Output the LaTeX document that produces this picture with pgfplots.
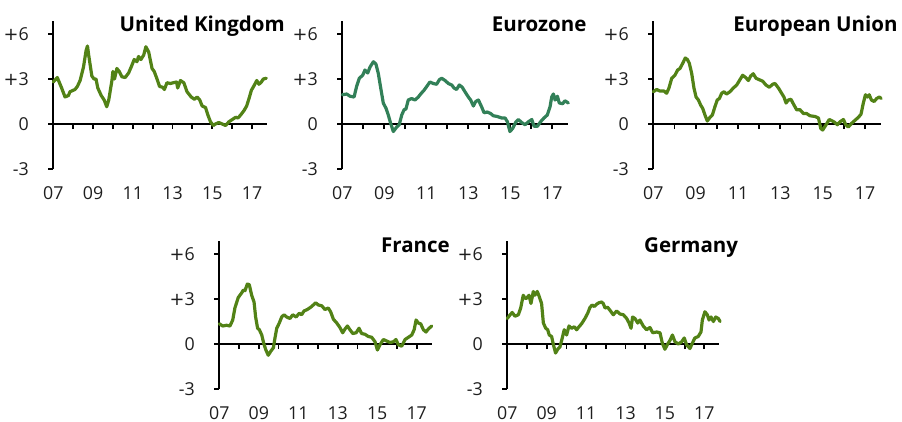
\documentclass[border=0pt]{standalone}
\usepackage{fontspec}
\setmainfont{Open Sans}
\newfontfamily\plusfont{DejaVu Sans}
\usepackage{pgfplots}
\pgfplotsset{compat=1.18}

\definecolor{olive}{RGB}{82,130,22}
\definecolor{ezgreen}{RGB}{50,128,88}
\definecolor{labelgray}{RGB}{30,30,30}

\newcommand{\tickfont}{\fontsize{17.8}{20}\selectfont}
\newcommand{\titlefont}{\fontsize{20.5}{23}\selectfont\bfseries}
\DeclareRobustCommand{\wplus}{{\plusfont+}}

\pgfplotsset{
  panel/.style={
    scale only axis,
    anchor=south west,
    height=148.5pt,
    xmin=7, xmax=17.75,
    ymin=-3, ymax=6.9,
    axis x line=middle,
    axis y line=left,
    axis line style={-, line width=1.8pt, black},
    hide obscured x ticks=false,
    hide obscured y ticks=false,
    tick align=outside,
    major tick length=5pt,
    tick style={line width=1.8pt, black},
    xtick={7,8,...,17},
    xticklabels={07,,09,,11,,13,,15,,17},
    ytick={-3,0,3,6},
    yticklabels={-3,0,\wplus3,\wplus6},
    xticklabel style={anchor=north, inner sep=0pt, font=\tickfont, text=labelgray},
    yticklabel style={anchor=east, inner sep=0pt, font=\tickfont, text=labelgray},
    xticklabel shift=57.3pt,
    yticklabel shift=19.3pt,
    clip=false,
  },
  series/.style={line width=3.2pt, line join=round, line cap=round, #1},
}

\begin{document}
\begin{tikzpicture}
\path[use as bounding box] (0,0) rectangle (902pt,421pt);

% United Kingdom
\begin{axis}[panel, at={(53.3pt,252pt)}, width=213.6pt]
\addplot[series=olive] coordinates {
(7.00,2.8)(7.20,3.1)(7.42,2.4)(7.59,1.8)(7.76,1.9)(7.84,2.15)(8.09,2.3)(8.21,2.5)(8.35,2.9)(8.52,3.8)
(8.65,4.9)(8.72,5.2)(8.78,4.6)(8.94,3.2)(9.05,3.0)(9.15,3.0)(9.24,2.4)(9.41,1.9)(9.56,1.6)(9.69,1.15)
(9.79,1.6)(9.95,2.9)(10.00,3.5)(10.08,3.0)(10.20,3.7)(10.32,3.5)(10.45,3.15)(10.62,3.1)(10.79,3.4)(10.92,3.8)
(11.07,4.3)(11.21,4.15)(11.29,4.5)(11.41,4.3)(11.55,4.6)(11.66,5.15)(11.80,4.8)(11.97,3.7)(12.08,3.5)(12.22,3.0)
(12.35,2.5)(12.51,2.45)(12.59,2.3)(12.72,2.75)(12.89,2.7)(13.03,2.75)(13.20,2.8)(13.26,2.4)(13.40,2.9)(13.57,2.75)
(13.73,2.15)(13.94,1.8)(14.10,1.65)(14.24,1.8)(14.37,1.6)(14.49,1.2)(14.66,1.1)(14.78,0.6)(14.91,0.15)(15.05,-0.1)
(15.16,0.0)(15.33,0.1)(15.50,0.0)(15.67,-0.1)(15.84,0.15)(16.01,0.3)(16.18,0.45)(16.29,0.4)(16.43,0.6)(16.60,0.9)
(16.73,1.2)(16.85,1.7)(16.97,2.25)(17.10,2.55)(17.24,2.9)(17.35,2.65)(17.47,2.8)(17.57,3.0)(17.72,3.05)
};
\end{axis}

% Eurozone
\begin{axis}[panel, at={(342.3pt,252pt)}, width=225.8pt]
\addplot[series=ezgreen] coordinates {
(7.00,1.95)(7.21,2.0)(7.37,1.85)(7.56,1.8)(7.68,2.5)(7.81,3.05)(7.97,3.25)(8.08,3.6)(8.21,3.4)(8.32,3.8)
(8.48,4.15)(8.60,4.0)(8.71,3.4)(8.83,2.4)(8.95,1.4)(9.08,1.05)(9.19,0.6)(9.30,0.05)(9.43,-0.5)(9.59,-0.2)
(9.71,-0.05)(9.83,0.6)(9.94,0.95)(10.03,1.0)(10.14,1.6)(10.30,1.7)(10.46,1.6)(10.62,1.8)(10.73,2.0)(10.89,2.25)
(11.02,2.5)(11.17,2.8)(11.33,2.7)(11.49,2.65)(11.62,2.95)(11.73,3.05)(11.89,2.9)(12.05,2.7)(12.21,2.6)(12.32,2.4)
(12.44,2.3)(12.57,2.6)(12.71,2.45)(12.84,2.15)(13.00,1.8)(13.11,1.6)(13.24,1.2)(13.35,1.5)(13.48,1.6)(13.63,1.15)
(13.75,0.75)(13.90,0.8)(14.06,0.7)(14.19,0.55)(14.38,0.5)(14.59,0.4)(14.75,0.4)(14.86,0.15)(14.98,-0.5)(15.11,-0.3)
(15.27,0.15)(15.38,0.3)(15.54,0.1)(15.70,-0.05)(15.86,0.15)(16.02,0.3)(16.13,-0.15)(16.29,-0.15)(16.44,0.15)(16.60,0.4)
(16.76,0.6)(16.89,1.15)(16.97,1.8)(17.05,2.0)(17.13,1.6)(17.24,1.85)(17.33,1.4)(17.49,1.35)(17.60,1.55)(17.76,1.4)
};
\end{axis}

% European Union
\begin{axis}[panel, at={(653.3pt,252pt)}, width=227.6pt]
\addplot[series=olive] coordinates {
(7.00,2.15)(7.16,2.3)(7.31,2.2)(7.50,2.2)(7.63,2.05)(7.74,2.4)(7.87,3.05)(8.02,3.25)(8.15,3.6)(8.26,3.7)
(8.39,4.05)(8.51,4.4)(8.61,4.3)(8.70,4.05)(8.81,3.4)(8.92,2.4)(9.02,1.8)(9.13,1.6)(9.24,1.25)(9.33,1.05)
(9.44,0.6)(9.55,0.2)(9.68,0.45)(9.79,0.6)(9.91,1.15)(10.02,1.6)(10.12,1.7)(10.23,2.05)(10.34,2.15)(10.46,2.0)
(10.62,2.15)(10.78,2.4)(10.94,2.6)(11.09,2.95)(11.22,3.25)(11.36,3.1)(11.49,2.9)(11.60,3.2)(11.72,3.35)(11.85,3.05)
(12.01,2.95)(12.17,2.85)(12.32,2.6)(12.48,2.45)(12.64,2.65)(12.75,2.7)(12.91,2.4)(13.06,2.05)(13.17,1.8)(13.27,1.4)
(13.38,1.6)(13.50,1.65)(13.65,1.25)(13.77,0.95)(13.93,0.95)(14.09,0.7)(14.24,0.7)(14.40,0.55)(14.64,0.5)(14.80,0.4)
(14.91,-0.3)(15.00,-0.4)(15.16,-0.05)(15.31,0.3)(15.46,0.2)(15.58,0.1)(15.69,-0.05)(15.82,0.15)(15.98,0.3)(16.09,-0.05)
(16.21,-0.2)(16.37,0.05)(16.53,0.25)(16.69,0.45)(16.81,0.65)(16.92,1.4)(17.02,1.95)(17.11,1.8)(17.20,1.95)(17.30,1.6)
(17.43,1.5)(17.55,1.7)(17.68,1.8)(17.76,1.7)
};
\end{axis}

% France
\begin{axis}[panel, at={(219.3pt,32pt)}, width=212.2pt]
\addplot[series=olive] coordinates {
(7.00,1.35)(7.17,1.2)(7.37,1.25)(7.54,1.2)(7.68,1.6)(7.79,2.4)(7.96,3.1)(8.13,3.4)(8.22,3.6)(8.30,3.55)
(8.42,4.0)(8.52,3.95)(8.64,3.25)(8.76,2.8)(8.84,1.8)(8.94,1.05)(9.03,0.95)(9.15,0.6)(9.26,0.0)(9.36,-0.4)
(9.48,-0.75)(9.60,-0.5)(9.74,-0.25)(9.82,0.4)(9.91,1.05)(10.04,1.4)(10.16,1.8)(10.28,1.95)(10.41,1.8)(10.58,1.7)
(10.72,1.95)(10.89,1.8)(11.05,2.05)(11.17,1.95)(11.29,2.2)(11.46,2.3)(11.63,2.45)(11.76,2.6)(11.88,2.75)(12.02,2.6)
(12.19,2.55)(12.35,2.3)(12.52,2.4)(12.64,2.15)(12.78,1.65)(12.95,1.4)(13.11,1.1)(13.25,0.75)(13.37,1.0)(13.49,1.2)
(13.62,0.95)(13.76,0.7)(13.93,0.75)(14.08,1.05)(14.21,0.7)(14.38,0.65)(14.55,0.5)(14.72,0.45)(14.89,0.15)(15.01,-0.4)
(15.14,-0.05)(15.31,0.3)(15.48,0.2)(15.65,0.1)(15.82,0.15)(15.95,0.3)(16.07,-0.05)(16.24,-0.15)(16.41,0.3)(16.58,0.45)
(16.75,0.6)(16.87,0.95)(16.97,1.6)(17.08,1.4)(17.20,1.35)(17.34,0.95)(17.47,0.8)(17.59,1.0)(17.76,1.2)
};
\end{axis}

% Germany
\begin{axis}[panel, at={(507.3pt,32pt)}, width=211.8pt]
\addplot[series=olive] coordinates {
(7.00,1.7)(7.14,1.95)(7.25,2.1)(7.39,1.85)(7.56,1.95)(7.68,2.4)(7.81,3.25)(7.90,3.05)(7.98,3.05)(8.10,3.25)
(8.20,2.7)(8.32,3.5)(8.40,3.25)(8.52,3.5)(8.61,3.2)(8.74,2.7)(8.83,1.4)(8.95,1.05)(9.05,0.95)(9.13,0.6)
(9.25,0.5)(9.34,-0.05)(9.45,-0.6)(9.56,-0.35)(9.67,-0.2)(9.76,0.25)(9.89,0.95)(10.01,0.6)(10.13,1.2)(10.27,1.05)
(10.40,1.15)(10.52,0.95)(10.64,1.15)(10.77,1.35)(10.94,1.7)(11.08,2.05)(11.20,2.45)(11.31,2.6)(11.42,2.5)(11.53,2.65)
(11.65,2.75)(11.79,2.8)(11.87,2.7)(11.96,2.4)(12.09,2.45)(12.21,2.25)(12.38,1.95)(12.55,2.2)(12.72,2.0)(12.89,1.95)
(13.06,1.7)(13.18,1.4)(13.28,1.05)(13.36,1.8)(13.48,1.7)(13.62,1.4)(13.73,1.6)(13.90,1.2)(14.07,0.95)(14.24,1.1)
(14.38,0.75)(14.58,0.8)(14.75,0.75)(14.87,0.05)(15.00,-0.35)(15.14,0.0)(15.26,0.25)(15.38,0.6)(15.51,0.15)(15.68,0.0)
(15.85,0.15)(15.98,0.4)(16.10,-0.05)(16.27,-0.3)(16.39,0.05)(16.52,0.4)(16.69,0.5)(16.83,0.8)(16.90,1.6)(17.03,2.15)
(17.15,1.95)(17.24,1.6)(17.34,1.8)(17.46,1.5)(17.58,1.8)(17.71,1.7)(17.80,1.5)
};
\end{axis}

% panel titles
\node[anchor=base east, inner sep=0pt, font=\titlefont] at (285pt,389.3pt) {United Kingdom};
\node[anchor=base east, inner sep=0pt, font=\titlefont] at (586.7pt,389.3pt) {Eurozone};
\node[anchor=base east, inner sep=0pt, font=\titlefont] at (897.7pt,389.3pt) {European Union};
\node[anchor=base east, inner sep=0pt, font=\titlefont] at (450pt,168.7pt) {France};
\node[anchor=base east, inner sep=0pt, font=\titlefont] at (738.3pt,168.7pt) {Germany};
\end{tikzpicture}
\end{document}
